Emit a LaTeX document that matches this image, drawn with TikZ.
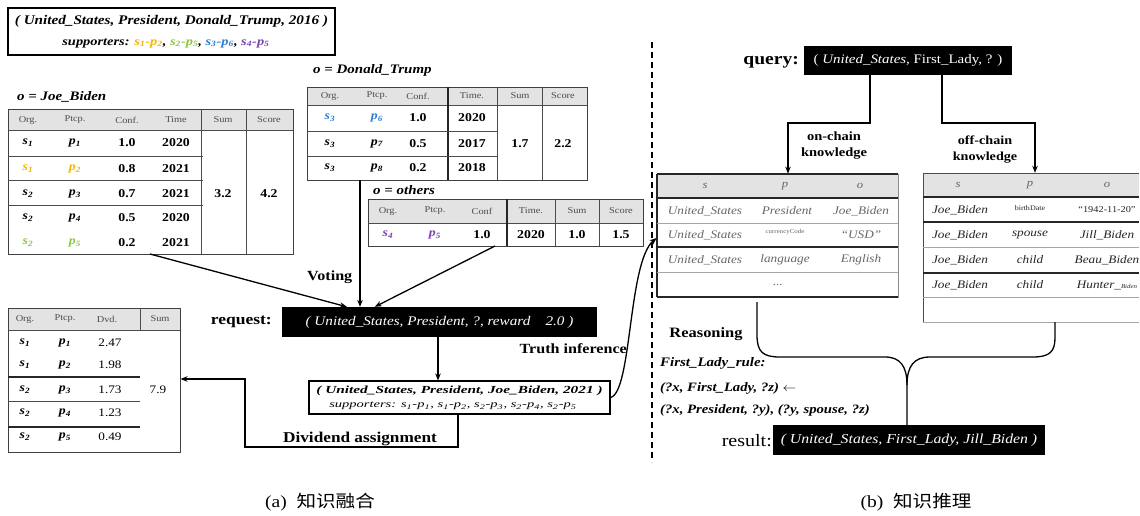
\documentclass[tikz,border=0pt]{standalone}
\usepackage{graphicx}
\usepackage{fontspec}
\setmainfont{Liberation Serif}
\newfontfamily\cjk{Noto Sans CJK SC}
\usetikzlibrary{arrows.meta,calc}
\definecolor{cy}{HTML}{F5B400}
\definecolor{cg}{HTML}{8DC63F}
\definecolor{cb}{HTML}{2A7FD4}
\definecolor{cp}{HTML}{7B3FB5}
\definecolor{hdrfill}{HTML}{E3E3E3}
\newcommand{\ent}[2]{#1\textsubscript{#2}}
\newcommand{\sx}[2][1.15]{\scalebox{#1}[1]{#2}}
\begin{document}
\begin{tikzpicture}[x=1pt,y=-1pt,
  arr/.style={-{Stealth[length=7pt,width=5.5pt]}, line width=1.3pt},
  tline/.style={draw=black!70, line width=0.9pt},
  tlight/.style={draw=black!35, line width=0.8pt},
  tthick/.style={draw=black!85, line width=1.5pt},
  tbox/.style={draw=black!75, line width=1pt, inner sep=0pt},
  hdr/.style={font=\fontsize{9}{10}\selectfont, text=black!70, inner sep=1pt},
  cellit/.style={font=\fontsize{12}{13}\selectfont\bfseries\itshape, inner sep=1pt},
  cellnum/.style={font=\fontsize{12}{13}\selectfont\bfseries, inner sep=1pt},
  dvdnum/.style={font=\fontsize{11.5}{13}\selectfont, inner sep=1pt},
  tlabel/.style={font=\fontsize{13}{15}\selectfont\bfseries\itshape, anchor=west, inner sep=1pt},
  blackbox/.style={fill=black, text=white, inner sep=0pt},
  lab/.style={font=\fontsize{14}{16}\selectfont\bfseries, inner sep=1pt},
  kgon/.style={font=\fontsize{11.5}{13}\selectfont\itshape, text=black!60, inner sep=1pt},
  kgoff/.style={font=\fontsize{11.5}{13}\selectfont\itshape, text=black!85, inner sep=1pt},
  kghdr/.style={font=\fontsize{11}{13}\selectfont\itshape, text=black!60, inner sep=1pt},
  rule/.style={font=\fontsize{12.8}{14}\selectfont\bfseries\itshape, anchor=west, inner sep=1pt},
  captext/.style={font=\fontsize{17}{19}\selectfont, inner sep=1pt}
]
\useasboundingbox (0,0) rectangle (1140,515);
\fill[white] (0,0) rectangle (1140,515);

% ---------------- top-left fact box
\node[draw, line width=1.3pt, minimum width=327pt, minimum height=47pt, inner sep=0pt] (tb) at (171.5,31.5) {};
\node[font=\fontsize{13.2}{15}\selectfont\bfseries\itshape, inner sep=1pt] (tb1) at (171.5,21) {\sx{( United\_States, President, Donald\_Trump, 2016 )}};
\node[font=\fontsize{12}{13}\selectfont\bfseries\itshape, inner sep=1pt] (tb2) at (166,43) {\sx[1.2]{supporters: {\color{cy}\ent{s}{1}-\ent{p}{2}}, {\color{cg}\ent{s}{2}-\ent{p}{5}}, {\color{cb}\ent{s}{3}-\ent{p}{6}}, {\color{cp}\ent{s}{4}-\ent{p}{5}}}};

% ---------------- Joe_Biden table
\node[tlabel] (jbl) at (16,97) {\sx{o = Joe\_Biden}};
\fill[hdrfill] (8,109) rectangle (293,130);
\node[tbox, minimum width=285pt, minimum height=145pt] (jbT) at (150.5,181.5) {};
\draw[tline] (8,130) -- (293,130) (201,109) -- (201,254) (246,109) -- (246,254);
\draw[tline] (8,156) -- (203,156) (8,180) -- (203,180) (8,205) -- (203,205);
\foreach \x/\t [count=\i] in {28/Org., 75/Ptcp., 127/Conf., 176/Time, 223/Sum, 269/Score}
  \node[hdr] (jbh\i) at (\x,120) {\sx{\t}};
\foreach \y/\a/\b/\c/\d/\col [count=\i] in {143/1/1/1.0/2020/black, 169/1/2/0.8/2021/cy, 194/2/3/0.7/2021/black, 218/2/4/0.5/2020/black, 243/2/5/0.2/2021/cg} {
  \node[cellit, text=\col] (jbo\i) at (28,\y) {\sx{\ent{s}{\a}}};
  \node[cellit, text=\col] (jbp\i) at (75,\y) {\sx{\ent{p}{\b}}};
  \node[cellnum] (jbc\i) at (127,\y) {\sx{\c}};
  \node[cellnum] (jbt\i) at (176,\y) {\sx{\d}};
}
\node[cellnum] (jbsum) at (223,194) {\sx{3.2}};
\node[cellnum] (jbsc) at (269,194) {\sx{4.2}};

% ---------------- Donald_Trump table
\node[tlabel] (dtl) at (312,70) {\sx{o = Donald\_Trump}};
\fill[hdrfill] (307,87) rectangle (587,105);
\node[tbox, minimum width=280pt, minimum height=93pt] (dtT) at (447,133.5) {};
\draw[tline] (307,105) -- (587,105) (497,87) -- (497,180) (542,87) -- (542,180);
\draw[tthick] (448,87) -- (448,180);
\draw[tline] (307,131) -- (497,131) (307,156) -- (497,156);
\foreach \x/\t [count=\i] in {330/Org., 377/Ptcp., 418/Conf., 472/Time., 520/Sum, 563/Score}
  \node[hdr] (dth\i) at (\x,96) {\sx{\t}};
\foreach \y/\a/\b/\c/\d/\col [count=\i] in {118/3/6/1.0/2020/cb, 143.5/3/7/0.5/2017/black, 168/3/8/0.2/2018/black} {
  \node[cellit, text=\col] (dto\i) at (330,\y) {\sx{\ent{s}{\a}}};
  \node[cellit, text=\col] (dtp\i) at (377,\y) {\sx{\ent{p}{\b}}};
  \node[cellnum] (dtc\i) at (418,\y) {\sx{\c}};
  \node[cellnum] (dtt\i) at (472,\y) {\sx{\d}};
}
\node[cellnum] (dtsum) at (520,143.5) {\sx{1.7}};
\node[cellnum] (dtsc) at (563,143.5) {\sx{2.2}};

% ---------------- others table
\node[tlabel] (otl) at (372,190) {\sx{o = others}};
\fill[hdrfill] (368,199) rectangle (643,223);
\node[tbox, minimum width=275pt, minimum height=47pt] (otT) at (505.5,222.5) {};
\draw[tline] (368,223) -- (643,223) (555,199) -- (555,246) (599,199) -- (599,246);
\draw[tthick] (507,199) -- (507,246);
\foreach \x/\t [count=\i] in {388/Org., 435/Ptcp., 482/Conf, 531/Time., 577/Sum, 621/Score}
  \node[hdr] (oth\i) at (\x,211) {\sx{\t}};
\node[cellit, text=cp] (oto) at (388,235) {\sx{\ent{s}{4}}};
\node[cellit, text=cp] (otp) at (435,235) {\sx{\ent{p}{5}}};
\node[cellnum] (otc) at (482,235) {\sx{1.0}};
\node[cellnum] (ott) at (531,235) {\sx{2020}};
\node[cellnum] (ots) at (577,235) {\sx{1.0}};
\node[cellnum] (otsc) at (621,235) {\sx{1.5}};

% ---------------- request
\node[blackbox, minimum width=315pt, minimum height=30pt, font=\fontsize{13.2}{15}\selectfont\itshape] (req) at (439.5,322) {\sx{( United\_States, President, ?, reward\quad 2.0 )}};
\node[font=\fontsize{15.2}{17}\selectfont\bfseries, anchor=east, inner sep=1pt] (reql) at (273,322) {\sx{request:}};
\node[lab, anchor=west] (vot) at (306,277) {\sx{Voting}};

\coordinate (v1) at (150,254);
\coordinate (v2) at (360,180);
\coordinate (v3) at (495,246);
\draw[arr] (v1) -- ($(req.north west)+(65,0)$);
\draw[arr] (v2) -- (v2 |- req.north);
\draw[arr] (v3) -- ($(req.north west)+(93,0)$);

% ---------------- truth box
\node[draw, line width=1.1pt, minimum width=301pt, minimum height=33pt, inner sep=0pt] (truth) at (459.5,397.5) {};
\node[font=\fontsize{10.8}{12}\selectfont\bfseries\itshape, inner sep=1pt] (tr1) at (459.5,391) {\sx[1.42]{( United\_States, President, Joe\_Biden, 2021 )}};
\node[font=\fontsize{10}{11}\selectfont\itshape, inner sep=1pt] (tr2) at (453,406) {\sx[1.45]{supporters: \ent{s}{1}-\ent{p}{1}, \ent{s}{1}-\ent{p}{2}, \ent{s}{2}-\ent{p}{3}, \ent{s}{2}-\ent{p}{4}, \ent{s}{2}-\ent{p}{5}}};
\coordinate (r1) at (438,337);
\draw[arr] (req.south -| r1) -- (r1 |- truth.north);

% ---------------- dividend table
\fill[hdrfill] (8,308) rectangle (180,330);
\node[tbox, minimum width=172pt, minimum height=144pt] (dvT) at (94,380) {};
\draw[tline] (8,330) -- (180,330) (140,308) -- (140,330);
\draw[tthick] (8,377) -- (140,377) (8,427) -- (140,427);
\draw[tline] (8,401) -- (140,401);
\foreach \x/\t [count=\i] in {25/Org., 65/Ptcp., 107/Dvd., 160/Sum}
  \node[hdr] (dvh\i) at (\x,319) {\sx{\t}};
\foreach \y/\a/\b/\c [count=\i] in {343/1/1/2.47, 365/1/2/1.98, 390/2/3/1.73, 413/2/4/1.23, 437/2/5/0.49} {
  \node[cellit] (dvo\i) at (25,\y) {\sx{\ent{s}{\a}}};
  \node[cellit] (dvp\i) at (65,\y) {\sx{\ent{p}{\b}}};
  \node[dvdnum] (dvd\i) at (110,\y) {\sx{\c}};
}
\node[dvdnum] (dvsum) at (158,390) {\sx{7.9}};

\coordinate (d1) at (458,447);
\coordinate (d2) at (245,447);
\coordinate (d3) at (245,379);
\draw[arr] (truth.south -| d1) -- (d1) -- (d2) -- (d3) -- (d3 -| dvT.east);
\node[font=\fontsize{15}{17}\selectfont\bfseries, anchor=south, inner sep=1pt] (dvl) at (360,447) {\sx{Dividend assignment}};

% ---------------- separator
\draw[line width=2.2pt, dash pattern=on 6pt off 4pt] (652,42) -- (652,462);

% ---------------- query
\node[blackbox, minimum width=208pt, minimum height=29pt, font=\fontsize{13}{15}\selectfont] (qry) at (908,60.5) {\sx{( \textit{United\_States}, First\_Lady, ? )}};
\node[font=\fontsize{17}{19}\selectfont\bfseries, anchor=east, inner sep=1pt] (qryl) at (800,62) {\sx{query:}};

% ---------------- on-chain table
\fill[hdrfill] (657,174) rectangle (898,198);
\node[draw=black!45, line width=0.8pt, minimum width=241pt, minimum height=123pt, inner sep=0pt] (onT) at (777.5,235.5) {};
\draw[tthick] (657,174) -- (898,174) (657,198) -- (898,198) (657,247) -- (898,247) (657,297) -- (898,297) (657,174) -- (657,297);
\draw[tlight] (657,223) -- (898,223) (657,272) -- (898,272);
\node[kghdr] (onh1) at (705,186) {\sx{s}};
\node[kghdr] (onh2) at (785,186) {\sx{p}};
\node[kghdr] (onh3) at (860,186) {\sx{o}};
\node[kgon] (on11) at (705,211) {\sx{United\_States}};
\node[kgon] (on12) at (787,211) {\sx{President}};
\node[kgon] (on13) at (861,211) {\sx{Joe\_Biden}};
\node[kgon] (on21) at (705,235) {\sx{United\_States}};
\node[kgon, font=\fontsize{6}{7}\selectfont] (on22) at (785,232) {\sx{currencyCode}};
\node[kgon] (on23) at (861,235) {\sx{``USD''}};
\node[kgon] (on31) at (705,260) {\sx{United\_States}};
\node[kgon] (on32) at (785,260) {\sx{language}};
\node[kgon] (on33) at (861,260) {\sx{English}};
\node[kgon] (on41) at (778,285) {\sx{...}};

% ---------------- off-chain table
\fill[hdrfill] (923,173) rectangle (1139,197);
\draw[tline] (923,173) -- (1139,173) (923,173) -- (923,322);
\draw[tlight] (923,322) -- (1139,322);
\node[inner sep=0pt, minimum width=216pt, minimum height=149pt] (ofT) at (1031,247.5) {};
\draw[tthick] (923,197) -- (1139,197) (923,222) -- (1139,222) (923,273) -- (1139,273);
\draw[tlight] (923,247) -- (1139,247) (923,297) -- (1139,297);
\node[kghdr] (ofh1) at (958,185) {\sx{s}};
\node[kghdr] (ofh2) at (1030,185) {\sx{p}};
\node[kghdr] (ofh3) at (1107,185) {\sx{o}};
\node[kgoff] (of11) at (960,210) {\sx{Joe\_Biden}};
\node[kgoff, font=\fontsize{7}{8}\selectfont] (of12) at (1030,208) {\sx{birthDate}};
\node[kgoff, font=\fontsize{9}{10}\selectfont] (of13) at (1107,210) {\sx{``1942-11-20''}};
\node[kgoff] (of21) at (960,235) {\sx{Joe\_Biden}};
\node[kgoff] (of22) at (1030,235) {\sx{spouse}};
\node[kgoff] (of23) at (1107,235) {\sx{Jill\_Biden}};
\node[kgoff] (of31) at (960,260) {\sx{Joe\_Biden}};
\node[kgoff] (of32) at (1030,260) {\sx{child}};
\node[kgoff] (of33) at (1107,260) {\sx{Beau\_Biden}};
\node[kgoff] (of41) at (960,285) {\sx{Joe\_Biden}};
\node[kgoff] (of42) at (1030,285) {\sx{child}};
\node[kgoff] (of43) at (1107,285) {\sx{Hunter\_{\fontsize{6}{7}\selectfont Biden}}};

% ---------------- query connectors
\coordinate (q1) at (870,123);
\coordinate (q2) at (788,123);
\coordinate (q3) at (942,123);
\coordinate (q4) at (1035,123);
\draw[arr] (qry.south -| q1) -- (q1) -- (q2) -- (q2 |- onT.north);
\draw[arr] (qry.south -| q3) -- (q3) -- (q4) -- (q4 |- ofT.north);
\node[font=\fontsize{12.6}{16}\selectfont\bfseries, align=center, inner sep=1pt] (onl) at (834,146) {\sx{on-chain}\\\sx{knowledge}};
\node[font=\fontsize{12.3}{16}\selectfont\bfseries, align=center, inner sep=1pt] (ofl) at (985,150) {\sx{off-chain}\\\sx{knowledge}};

% ---------------- truth inference
\coordinate (ti) at (657,238);
\draw[arr] (truth.east) .. controls (632,392) and (628,262) .. (onT.west |- ti);
\node[lab, anchor=east] (til) at (628,349) {\sx{Truth inference}};

% ---------------- reasoning
\node[font=\fontsize{14.3}{16}\selectfont\bfseries, inner sep=1pt] (rsn) at (706,334) {\sx{Reasoning}};
\node[rule, font=\fontsize{13}{15}\selectfont\bfseries\itshape] (ru1) at (659,363) {\sx{First\_Lady\_rule:}};
\node[rule] (ru2) at (659,388) {\sx{(?x, First\_Lady, ?z) $\leftarrow$}};
\node[rule] (ru3) at (659,410) {\sx{(?x, President, ?y), (?y, spouse, ?z)}};

% ---------------- result
\node[blackbox, minimum width=272pt, minimum height=30pt, font=\fontsize{13.7}{15}\selectfont\itshape] (res) at (909,440) {\sx{( United\_States, First\_Lady, Jill\_Biden )}};
\node[font=\fontsize{17.4}{19}\selectfont, anchor=east, inner sep=1pt] (resl) at (773,441) {\sx{result:}};

% ---------------- brace
\coordinate (bl) at (757,302);
\coordinate (br) at (1055,322);
\draw[line width=1.3pt] (bl) -- (757,335) .. controls (757,352) and (763,357) .. (780,357) -- (885,357) .. controls (900,357) and (907,366) .. (907,385) -- (res.north -| 907,0);
\draw[line width=1.3pt] (br) -- (1055,338) .. controls (1055,352) and (1049,357) .. (1033,357) -- (930,357) .. controls (914,357) and (907,366) .. (907,385);

% ---------------- captions
\node[captext] (capa) at (320,502) {\sx{(a)\ \ {\cjk 知识融合}}};
\node[captext] (capb) at (916,502) {\sx{(b)\ \ {\cjk 知识推理}}};
\end{tikzpicture}
\end{document}
